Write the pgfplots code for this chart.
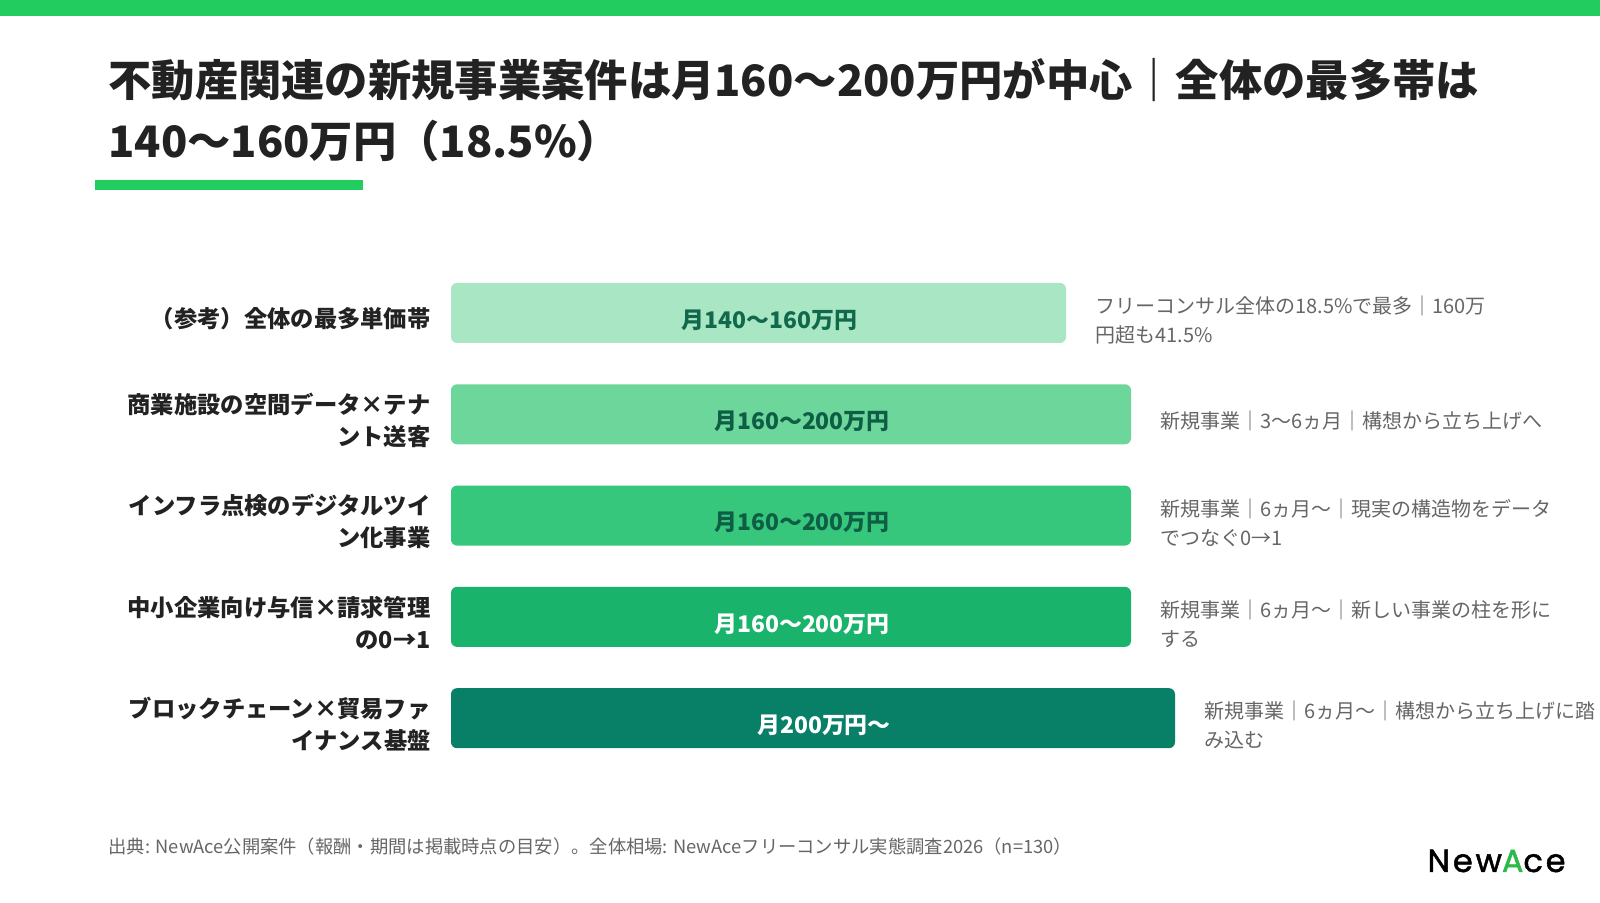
\documentclass[border=0pt]{standalone}
\usepackage{pgfplots}
\pgfplotsset{compat=1.18}
\usepackage{fontspec}
\setmainfont{Noto Sans CJK JP}
\newfontfamily\logofont{Poppins}[FakeBold=1.5]
\definecolor{topgreen}{HTML}{22CC5E}
\definecolor{titlecol}{HTML}{222222}
\definecolor{barA}{HTML}{A8E6C4}
\definecolor{barB}{HTML}{6DD69A}
\definecolor{barC}{HTML}{36C77D}
\definecolor{barD}{HTML}{1AB36B}
\definecolor{barE}{HTML}{087F67}
\definecolor{lblA}{HTML}{11694C}
\definecolor{lblB}{HTML}{0D5E45}
\definecolor{annot}{HTML}{666666}
\definecolor{logogreen}{HTML}{2DB84C}
\pgfplotsset{
  barsty/.style={xbar, draw=none, bar width=30pt, bar shift=0pt, rounded corners=3pt,
    nodes near coords style={anchor=west, inner sep=0pt, xshift=14.5pt, yshift=-3.5pt,
      align=left, text=annot, font=\fontsize{10pt}{14.3pt}\selectfont}},
  inlbl/.style={draw=none, mark=none,
    nodes near coords style={anchor=center, inner sep=0pt, yshift=-3.5pt,
      text=#1, font=\fontsize{11.45pt}{13pt}\selectfont\bfseries}},
}
\begin{document}
\begin{tikzpicture}
\fill[white] (0,0) rectangle (800pt,451.5pt);
\fill[topgreen] (0,451.5pt) rectangle (800pt,443.5pt);
\node[anchor=base west, inner sep=0pt, text=titlecol, font=\fontsize{21.65pt}{30pt}\selectfont\bfseries] at (54pt,403pt)
  {不動産関連の新規事業案件は月160〜200万円が中心｜全体の最多帯は};
\node[anchor=base west, inner sep=0pt, text=titlecol, font=\fontsize{21.65pt}{30pt}\selectfont\bfseries] at (54pt,372.5pt)
  {140〜160万円（18.5\%）};
\fill[topgreen] (47.5pt,361.5pt) rectangle (181.5pt,356.5pt);
\begin{axis}[
  at={(225.5pt,320.325pt)}, anchor=north west,
  scale only axis, width=400pt, height=253.25pt,
  xmin=0, xmax=800, ymin=-0.5, ymax=4.5, y dir=reverse,
  axis line style={draw=none}, major tick length=0pt,
  xtick=\empty, ytick={0,1,2,3,4},
  yticklabels={{（参考）全体の最多単価帯},{商業施設の空間データ×テナ\\ント送客},{インフラ点検のデジタルツイ\\ン化事業},{中小企業向け与信×請求管理\\の0→1},{ブロックチェーン×貿易ファ\\イナンス基盤}},
  yticklabel style={align=right, inner sep=0pt, xshift=-10pt, yshift=-3pt, text=titlecol,
    font=\fontsize{11.65pt}{16.3pt}\selectfont\bfseries},
  clip=false,
]
\addplot[barsty, fill=barA, nodes near coords={フリーコンサル全体の18.5\%で最多｜160万\\円超も41.5\%}] coordinates {(615,0)};
\addplot[barsty, fill=barB, nodes near coords={新規事業｜3〜6ヵ月｜構想から立ち上げへ}] coordinates {(680,1)};
\addplot[barsty, fill=barC, nodes near coords={新規事業｜6ヵ月〜｜現実の構造物をデータ\\でつなぐ0→1}] coordinates {(680,2)};
\addplot[barsty, fill=barD, nodes near coords={新規事業｜6ヵ月〜｜新しい事業の柱を形に\\する}] coordinates {(680,3)};
\addplot[barsty, fill=barE, nodes near coords={新規事業｜6ヵ月〜｜構想から立ち上げに踏\\み込む}] coordinates {(724,4)};
\addplot[inlbl=lblA, nodes near coords={月140〜160万円}] coordinates {(318.5,0)};
\addplot[inlbl=lblB, nodes near coords={月160〜200万円}] coordinates {(351,1)};
\addplot[inlbl=lblB, nodes near coords={月160〜200万円}] coordinates {(351,2)};
\addplot[inlbl=white, nodes near coords={月160〜200万円}] coordinates {(351,3)};
\addplot[inlbl=white, nodes near coords={月200万円〜}] coordinates {(373,4)};
\end{axis}
\node[anchor=base west, inner sep=0pt, text=annot, font=\fontsize{9.15pt}{11pt}\selectfont] at (54pt,24.5pt)
  {出典: NewAce公開案件（報酬・期間は掲載時点の目安）。全体相場: NewAceフリーコンサル実態調査2026（n=130）};
\node[anchor=base east, inner sep=0pt, font=\logofont\fontsize{16pt}{18pt}\selectfont] at (783pt,15.5pt)
  {\addfontfeature{LetterSpace=9}New\textcolor{logogreen}{A}ce};
\end{tikzpicture}
\end{document}
